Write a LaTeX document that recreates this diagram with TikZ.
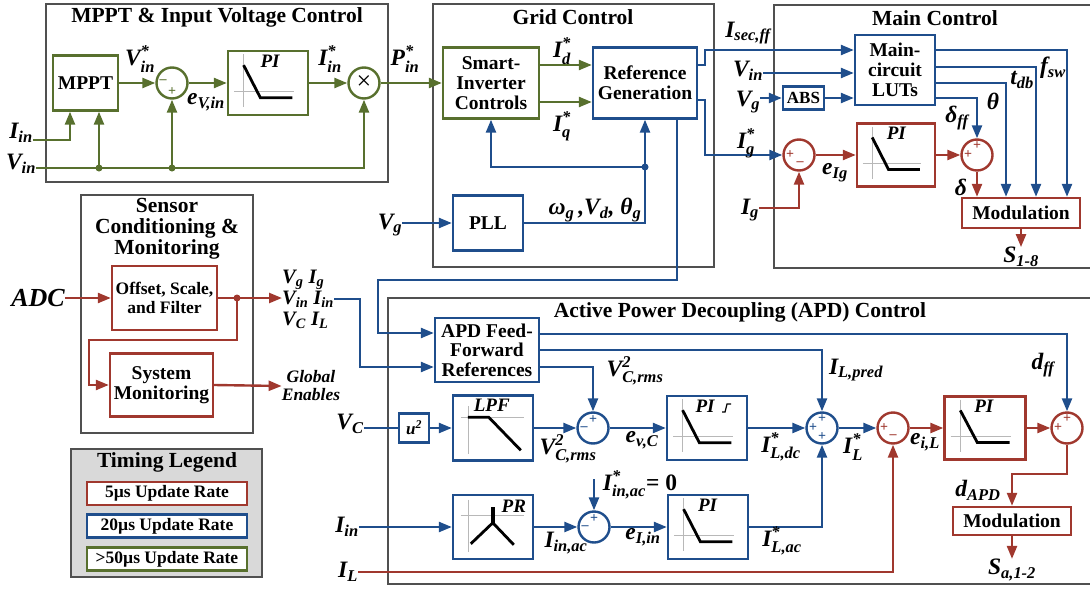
\documentclass[tikz,border=0pt]{standalone}
\usepackage{amsmath}
\usepackage{fontspec}
\setmainfont{Liberation Serif}
\usetikzlibrary{arrows.meta,calc}
\definecolor{cg}{RGB}{88,112,46}
\definecolor{cb}{RGB}{31,78,140}
\definecolor{cr}{RGB}{160,56,46}
\definecolor{cf}{RGB}{80,80,80}
\definecolor{lg}{RGB}{217,217,217}
\newcommand\lsub[2]{#1\ensuremath{_{\text{#2}}}}
\newcommand\lsubsup[3]{#1\ensuremath{_{\text{#2}}^{\text{#3}}}}
\tikzset{
 frm/.style={draw=cf,line width=1.4pt},
 blk/.style={draw,line width=2.4pt,fill=white,align=center,inner sep=0pt,font=\fontsize{19.5}{20}\selectfont\bfseries},
 ln/.style={line width=2.4pt},
 arr/.style={line width=2.4pt,-{Triangle[length=13pt,width=10pt]}},
 lab/.style={font=\fontsize{23.5}{25}\selectfont\bfseries\itshape,inner sep=0pt,align=center},
 ttl/.style={font=\fontsize{21.5}{21}\selectfont\bfseries,inner sep=0pt,align=center},
 sumc/.style={circle,draw,line width=2.4pt,minimum size=31pt,inner sep=0pt,fill=white},
 sg/.style={font=\fontsize{14}{14}\selectfont\bfseries,inner sep=0pt},
 jd/.style={circle,fill,inner sep=0pt,minimum size=7pt},
 axl/.style={draw=black!28,line width=1pt},
 crv/.style={line width=2.8pt},
 pil/.style={font=\fontsize{19}{20}\selectfont\bfseries\itshape,inner sep=0pt},
}
\newcommand\PIg[5]{%
\begin{scope}[shift={(#1.north west)}]
 \draw[axl] ({0.21*#2},{0.07*#3}) -- ({0.21*#2},{0.9*#3});
 \draw[axl] ({0.09*#2},{0.65*#3}) -- ({0.84*#2},{0.65*#3});
 \draw[crv] ({0.21*#2},{0.24*#3}) -- ({0.42*#2},{0.75*#3}) -- ({0.82*#2},{0.75*#3});
 \node[pil] (#1-lab) at ({#5*#2},{0.18*#3}) {#4};
\end{scope}}
\begin{document}
\begin{tikzpicture}[x=1pt,y=-1pt]
\useasboundingbox (0,0) rectangle (1090,589);
% frames
\draw[frm] (46,4) rectangle (388,182);
\draw[frm] (433,4) rectangle (714,267);
\draw[frm] (1092,5) -- (774,5) -- (774,268) -- (1092,268);
\draw[frm] (81,195) rectangle (253,433);
\draw[frm] (1092,298) -- (388,298) -- (388,584) -- (1092,584);
\draw[frm,fill=lg] (71,449) rectangle (262,577);
% titles
\node[ttl] (tmppt) at (217,17) {MPPT \& Input Voltage Control};
\node[ttl] (tgrid) at (573,17) {Grid Control};
\node[ttl] (tmain) at (935,18) {Main Control};
\node[ttl] (tsens) at (167,229) {Sensor\\Conditioning \&\\Monitoring};
\node[ttl] (tapd) at (740,312) {Active Power Decoupling (APD) Control};
\node[ttl] (tleg) at (167,462) {Timing Legend};

% ===== MPPT =====
\node[blk,draw=cg,minimum width=65pt,minimum height=55pt] (mppt) at (85.5,83) {MPPT};
\node[sumc,draw=cg] (s1) at (172,83) {};
\node[blk,draw=cg,minimum width=80pt,minimum height=64pt] (pi1) at (268,83) {};
\node[sumc,draw=cg] (m1) at (364,83) {\fontsize{26}{26}\selectfont ×};
\node[blk,draw=cg,minimum width=96pt,minimum height=71pt] (si) at (491,83) {Smart-\\Inverter\\Controls};
\draw[arr,cg] (mppt) -- (s1);
\draw[arr,cg] (s1) -- (pi1);
\draw[arr,cg] (pi1) -- (m1);
\draw[arr,cg] (m1) -- (si);
\PIg{pi1}{80}{64}{PI}{0.54}
\node[sg,cg] (s1m) at ($(s1)+(-9,-1)$) {–};
\node[sg,cg] (s1p) at ($(s1)+(0,9)$) {+};
\node[lab] (iin1) at (21,133) {\lsub{I}{in}};
\node[lab] (vin1) at (21,164) {\lsub{V}{in}};
\coordinate (j3) at (99,168);
\coordinate (j4) at (172,168);
\draw[arr,cg] ([yshift=-7pt]iin1.east) -| ([xshift=-15.5pt]mppt.south);
\draw[arr,cg] ([yshift=-4pt]vin1.east) -| (m1.south);
\draw[arr,cg] (j3) -- ([xshift=13.5pt]mppt.south);
\draw[arr,cg] (j4) -- (s1.south);
\node[jd,cg] (jd3) at (j3) {};
\node[jd,cg] (jd4) at (j4) {};
\node[lab] (lvin) at (140,59) {\lsubsup{V}{in}{*}};
\node[lab] (lev) at (206,102) {\lsub{e}{V,in}};
\node[lab] (liin) at (330,59) {\lsubsup{I}{in}{*}};
\node[lab] (lpin) at (405,59) {\lsubsup{P}{in}{*}};

% ===== Grid =====
\node[blk,draw=cb,minimum width=104pt,minimum height=71pt] (rg) at (645,83) {Reference\\Generation};
\node[blk,draw=cb,minimum width=70pt,minimum height=55pt] (pll) at (488,223) {PLL};
\draw[arr,cg] ([yshift=18pt]si.east) -- ([yshift=18pt]rg.west);
\draw[arr,cg] ([yshift=-19pt]si.east) -- ([yshift=-19pt]rg.west);
\node[lab] (lid) at (562,51) {\lsubsup{I}{d}{*}};
\node[lab] (liq) at (562,126) {\lsubsup{I}{q}{*}};
\coordinate (j1) at (645,167);
\draw[ln,cb] (pll.east) -| (j1);
\draw[arr,cb] (j1) -- (rg.south);
\draw[arr,cb] (j1) -| (si.south);
\node[jd,cb] (jd1) at (j1) {};
\node[lab] (vg1) at (390,225) {\lsub{V}{g}};
\draw[arr,cb] ([yshift=2pt]vg1.east) -- (pll.west);
\node[lab] (lw) at (595,210) {\lsub{ω}{g}\,,\lsub{V}{d}, \lsub{θ}{g}};

% ===== Main control =====
\node[blk,draw=cb,minimum width=80pt,minimum height=70pt] (lut) at (895,70) {Main-\\circuit\\LUTs};
\node[blk,draw=cb,minimum width=41pt,minimum height=23pt,font=\fontsize{17}{17}\selectfont\bfseries] (abs) at (803.5,98) {ABS};
\node[sumc,draw=cr] (s2) at (799,155) {};
\node[blk,draw=cr,minimum width=78pt,minimum height=63pt] (pi2) at (896,155) {};
\node[sumc,draw=cr] (s3) at (977,155) {};
\node[blk,draw=cr,minimum width=118pt,minimum height=30pt] (mod1) at (1021,213) {Modulation};
\PIg{pi2}{78}{63}{PI}{0.52}
\draw[arr,cb] ([yshift=18pt]rg.east) -- ++(7,0) |- ([yshift=20pt]lut.west);
\draw[arr,cb] ([yshift=-17pt]rg.east) -- ++(7,0) |- (s2.west);
\node[lab] (vin2) at (748,71) {\lsub{V}{in}};
\draw[arr,cb] ([yshift=-2pt]vin2.east) -- ([yshift=-3pt]lut.west);
\node[lab] (vg2) at (748,102) {\lsub{V}{g}};
\draw[arr,cb] ([yshift=4pt]vg2.east) -- (abs.west);
\draw[arr,cb] (abs.east) -- ([yshift=-28pt]lut.west);
\draw[arr,cr] (s2) -- (pi2);
\draw[arr,cr] (pi2) -- (s3);
\node[lab] (ig) at (750,210) {\lsub{I}{g}};
\draw[arr,cr] ([yshift=2pt]ig.east) -| (s2.south);
\draw[arr,cb] ([yshift=20pt]lut.east) -| ([xshift=46pt]mod1.north);
\draw[arr,cb] ([yshift=3pt]lut.east) -| ([xshift=15pt]mod1.north);
\draw[arr,cb] ([yshift=-13pt]lut.east) -| ([xshift=-15pt]mod1.north);
\draw[arr,cb] ([yshift=-28pt]lut.east) -| (s3.north);
\draw[arr,cr] (s3.south) -- (s3.south |- mod1.north);
\node[lab] (s18) at (1021,257) {\lsub{S}{1-8}};
\draw[arr,cr] (mod1.south) -- (s18.north);
\node[sg,cr] (s2p) at ($(s2)+(-9,0)$) {+};
\node[sg,cr] (s2m) at ($(s2)+(1,9)$) {–};
\node[sg,cr] (s3a) at ($(s3)+(0,-9)$) {+};
\node[sg,cr] (s3b) at ($(s3)+(-9,0)$) {+};
\node[lab] (lisec) at (748,33) {\lsub{I}{sec,ff}};
\node[lab] (ligs) at (746,143) {\lsubsup{I}{g}{*}};
\node[lab] (lfsw) at (1053,68) {\lsub{f}{sw}};
\node[lab] (ltdb) at (1022,80) {\lsub{t}{db}};
\node[lab] (lth) at (993,101) {θ};
\node[lab] (ldff) at (957,118) {\lsub{δ}{ff}};
\node[lab] (ld) at (961,187) {δ};
\node[lab] (leig) at (835,173) {\lsub{e}{Ig}};

% ===== Sensor =====
\node[lab,font=\fontsize{26}{26}\selectfont\bfseries\itshape] (adc) at (38,298) {ADC};
\node[blk,draw=cr,minimum width=105pt,minimum height=64pt,font=\fontsize{17.5}{19}\selectfont\bfseries] (of) at (164.5,298) {Offset, Scale,\\and Filter};
\node[blk,draw=cr,minimum width=103pt,minimum height=63pt] (sm) at (161.5,385) {System\\Monitoring};
\draw[arr,cr] (adc.east) -- (of.west);
\node[lab,font=\fontsize{20.5}{21}\selectfont\bfseries\itshape,anchor=west,align=left] (meas) at (282,299) {\lsub{V}{g} \lsub{I}{g}\\\lsub{V}{in} \lsub{I}{in}\\\lsub{V}{C} \lsub{I}{L}};
\coordinate (j2) at (237,298);
\draw[arr,cr] (of.east) -- (meas.west |- of.east);
\node[jd,cr] (jd2) at (j2) {};
\draw[arr,cr] (j2) |- (89,340) |- (sm.west);
\node[lab,font=\fontsize{17.5}{18}\selectfont\bfseries\itshape] (ge) at (311,386) {Global\\Enables};
\draw[arr,cr] (sm.east) -- (ge.west);

% ===== APD =====
\node[blk,draw=cb,minimum width=104pt,minimum height=64pt,font=\fontsize{19.5}{19.5}\selectfont\bfseries] (ff) at (487,350) {APD Feed-\\Forward\\References};
\coordinate (c1) at (360,367);
\draw[arr,cb] (meas.east) -| (c1) -- ([yshift=-17pt]ff.west);
\coordinate (c2) at (677,280);
\coordinate (c3) at (378,280);
\draw[arr,cb] (c2 |- rg.south) -- (c2) -- (c3) |- ([yshift=17pt]ff.west);

\node[lab] (vc) at (350,424) {\lsub{V}{C}};
\node[blk,draw=cb,minimum width=30pt,minimum height=29pt,font=\fontsize{17}{17}\selectfont\bfseries\itshape] (u2) at (414,428) {u\ensuremath{^{\text{2}}}};
\draw[ln,cb] ([yshift=-4pt]vc.east) -- (u2.west);
\node[blk,draw=cb,minimum width=80pt,minimum height=65pt] (lpf) at (493,428) {};
\draw[arr,cb] (u2) -- (lpf);
\node[sumc,draw=cb] (svc) at (593,428) {};
\draw[arr,cb] (lpf) -- (svc);
\draw[arr,cb] ([yshift=-17pt]ff.east) -| (svc.north);
\node[blk,draw=cb,minimum width=80pt,minimum height=64pt] (pia) at (707,428) {};
\draw[arr,cb] (svc) -- (pia);
\node[sumc,draw=cb] (s4) at (822,428) {};
\draw[arr,cb] (pia) -- (s4);
\draw[arr,cb] (ff.east) -| (s4.north);
\node[sumc,draw=cr] (s5) at (893,428) {};
\draw[arr,cb] (s4) -- (s5);
\node[blk,draw=cr,minimum width=81pt,minimum height=63pt] (pir) at (985,428) {};
\draw[arr,cr] (s5) -- (pir);
\node[sumc,draw=cr] (s6) at (1067,428) {};
\draw[arr,cr] (pir) -- (s6);
\draw[arr,cb] ([yshift=16pt]ff.east) -| (s6.north);
\coordinate (c4) at (1067,474);
\node[blk,draw=cr,minimum width=118pt,minimum height=28pt] (mod2) at (1012,521) {Modulation};
\draw[arr,cr] (s6.south) -- (c4) -| (mod2.north);
\node[lab] (sa) at (1012,570) {\lsub{S}{a,1-2}};
\draw[arr,cr] (mod2.south) -- (sa.north);

\node[lab] (iin2) at (347,527) {\lsub{I}{in}};
\node[blk,draw=cb,minimum width=80pt,minimum height=64pt] (pr) at (493,527) {};
\draw[arr,cb] (iin2.east) -- (pr.west);
\node[sumc,draw=cb] (siin) at (594,527) {};
\draw[arr,cb] (pr) -- (siin);
\coordinate (c5) at (594,479);
\draw[arr,cb] (c5) -- (siin.north);
\node[blk,draw=cb,minimum width=80pt,minimum height=64pt] (pib) at (708,527) {};
\draw[arr,cb] (siin) -- (pib);
\draw[arr,cb] (pib.east) -| (s4.south);
\node[lab] (il) at (348,572) {\lsub{I}{L}};
\draw[arr,cr] (il.east) -| (s5.south);

% graphs
\PIg{pia}{80}{64}{PI}{0.49}
\draw[line width=1.2pt] (722,412) -- (725,412) -- (727,404) -- (731,404);
\PIg{pib}{80}{64}{PI}{0.51}
\PIg{pir}{81}{63}{PI}{0.5}
\begin{scope}[shift={(lpf.north west)}]
 \draw[axl] (17,12) -- (17,60);
 \draw[axl] (9,23) -- (72,23);
 \draw[crv] (16,23) -- (37,23) -- (69,56);
 \node[pil] (lpf-lab) at (40,11) {LPF};
\end{scope}
\begin{scope}[shift={(pr.north west)}]
 \draw[axl] (17,6) -- (17,58);
 \draw[axl] (9,22) -- (72,22);
 \draw[crv] (19,50) -- (41,29) -- (62,51);
 \draw[line width=3.6pt] (41,29) -- (41,13);
 \node[pil] (pr-lab) at (62,12) {PR};
\end{scope}

% signs
\node[sg,cb] (svca) at ($(svc)+(0,-8)$) {+};
\node[sg,cb] (svcb) at ($(svc)+(-9,1)$) {–};
\node[sg,cb] (siina) at ($(siin)+(0,-8)$) {+};
\node[sg,cb] (siinb) at ($(siin)+(-9,1)$) {–};
\node[sg,cb] (s4a) at ($(s4)+(0,-9)$) {+};
\node[sg,cb] (s4b) at ($(s4)+(-9,0)$) {+};
\node[sg,cb] (s4c) at ($(s4)+(0,9)$) {+};
\node[sg,cr] (s5a) at ($(s5)+(-9,0)$) {+};
\node[sg,cr] (s5b) at ($(s5)+(0,9)$) {–};
\node[sg,cr] (s6a) at ($(s6)+(0,-9)$) {+};
\node[sg,cr] (s6b) at ($(s6)+(-9,0)$) {+};

% APD labels
\node[lab] (lvr1) at (635,371) {\lsubsup{V}{C,rms}{2}};
\node[lab] (lvr2) at (568,449) {\lsubsup{V}{C,rms}{2}};
\node[lab] (levc) at (642,440) {\lsub{e}{v,C}};
\node[lab] (liac) at (566,543) {\lsub{I}{in,ac}};
\node[lab] (liac0) at (640,485) {\lsubsup{I}{in,ac}{*}{\upshape= 0}};
\node[lab] (leiin) at (643,537) {\lsub{e}{I,in}};
\node[lab] (lildc) at (781,447) {\lsubsup{I}{L,dc}{*}};
\node[lab] (lilac) at (782,541) {\lsubsup{I}{L,ac}{*}};
\node[lab] (lilp) at (856,370) {\lsub{I}{L,pred}};
\node[lab] (lils) at (853,447) {\lsubsup{I}{L}{*}};
\node[lab] (leil) at (925,442) {\lsub{e}{i,L}};
\node[lab] (ldff2) at (1043,365) {\lsub{d}{ff}};
\node[lab] (ldapd) at (978,490) {\lsub{d}{APD}};

% legend
\node[blk,draw=cr,minimum width=160pt,minimum height=23pt,font=\fontsize{17.5}{18}\selectfont\bfseries] (lr) at (167,493.5) {5µs Update Rate};
\node[blk,draw=cb,minimum width=160pt,minimum height=23pt,font=\fontsize{17.5}{18}\selectfont\bfseries] (lb) at (167,526) {20µs Update Rate};
\node[blk,draw=cg,minimum width=160pt,minimum height=23pt,font=\fontsize{17.5}{18}\selectfont\bfseries] (lgr) at (167,559) {>50µs Update Rate};
\end{tikzpicture}
\end{document}
